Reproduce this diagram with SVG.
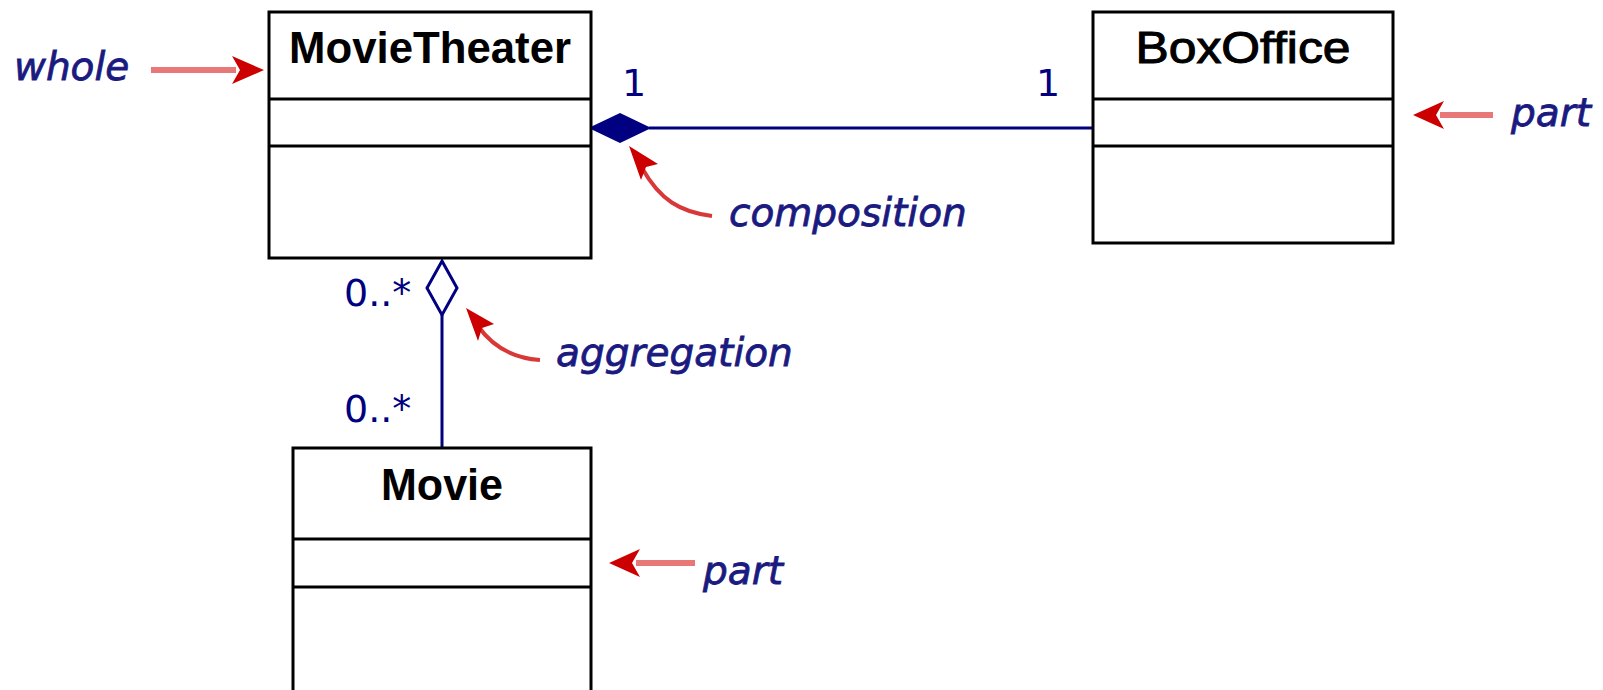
<svg xmlns="http://www.w3.org/2000/svg" width="1603" height="690" viewBox="0 0 1603 690">
<defs>
<style>
.box{fill:#fff;stroke:#000;stroke-width:3}
.div{stroke:#000;stroke-width:3}
.title{font-family:"Liberation Sans",Arial,sans-serif;font-weight:bold;font-size:44px;fill:#000;text-anchor:middle}
.note{font-family:"DejaVu Sans",Verdana,sans-serif;font-style:italic;font-size:39px;fill:#1a1a80;stroke:#1a1a80;stroke-width:0.8}
.mult{font-family:"DejaVu Sans",Verdana,sans-serif;font-size:38px;fill:#000080}
.assoc{stroke:#000080;stroke-width:3;fill:none}
.ptr{stroke:#e87878;stroke-width:6;fill:none}
.curve{stroke:#d83838;stroke-width:4;fill:none}
.head{fill:#cc0000}
</style>
</defs>
<g id="connectors">
<line class="assoc" x1="649" y1="128" x2="1093" y2="128"/>
<path d="M591,128 L620,114 L649,128 L620,142 Z" fill="#000080" stroke="#000080" stroke-width="2"/>
<line class="assoc" x1="442" y1="315" x2="442" y2="448"/>
<path d="M442,261 L457,288 L442,315 L427,288 Z" fill="#fff" stroke="#000080" stroke-width="3"/>
<text class="mult" x="622" y="96">1</text>
<text class="mult" x="1036" y="96">1</text>
<text class="mult" x="344" y="306">0..*</text>
<text class="mult" x="344" y="422">0..*</text>
</g>
<g id="MovieTheater">
<rect class="box" x="269" y="12" width="322" height="246"/>
<line class="div" x1="269" y1="99" x2="591" y2="99"/>
<line class="div" x1="269" y1="146" x2="591" y2="146"/>
<text class="title" x="430" y="63" textLength="282" lengthAdjust="spacingAndGlyphs">MovieTheater</text>
</g>
<g id="BoxOffice">
<rect class="box" x="1093" y="12" width="300" height="231"/>
<line class="div" x1="1093" y1="99" x2="1393" y2="99"/>
<line class="div" x1="1093" y1="146" x2="1393" y2="146"/>
<text class="title" x="1243" y="63" textLength="215" lengthAdjust="spacingAndGlyphs" style="font-weight:normal;stroke:#000;stroke-width:1">BoxOffice</text>
</g>
<g id="Movie">
<rect class="box" x="293" y="448" width="298" height="250"/>
<line class="div" x1="293" y1="539" x2="591" y2="539"/>
<line class="div" x1="293" y1="587" x2="591" y2="587"/>
<text class="title" x="442" y="500" textLength="122" lengthAdjust="spacingAndGlyphs">Movie</text>
</g>
<g id="annotations">
<text class="note" x="14" y="80">whole</text>
<line class="ptr" x1="151" y1="70" x2="236" y2="70"/>
<path class="head" d="M232,56 L264,70 L232,84 L240,70 Z"/>
<text class="note" x="1511" y="126">part</text>
<line class="ptr" x1="1493" y1="115" x2="1440" y2="115"/>
<path class="head" d="M1444,101 L1413,115 L1444,129 L1436,115 Z"/>
<text class="note" x="703" y="584">part</text>
<line class="ptr" x1="695" y1="563" x2="636" y2="563"/>
<path class="head" d="M640,549 L609,563 L640,577 L632,563 Z"/>
<text class="note" x="729" y="226">composition</text>
<path class="curve" d="M712,216 C680,212 660,200 642,168"/>
<path class="head" d="M629,146 L658,164 L646,167 L641,180 Z"/>
<text class="note" x="556" y="366">aggregation</text>
<path class="curve" d="M540,360 C512,358 492,346 478,326"/>
<path class="head" d="M466,308 L494,324 L482,328 L478,341 Z"/>
</g>
</svg>
